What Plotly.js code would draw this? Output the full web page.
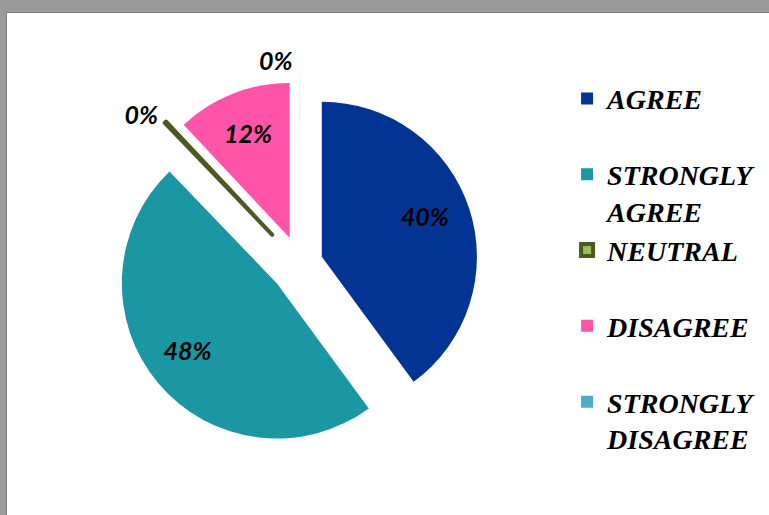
<!DOCTYPE html>
<html>
<head>
<meta charset="utf-8">
<script src="https://cdn.plot.ly/plotly-3.0.1.min.js"></script>
<style>
  html, body { margin: 0; padding: 0; background: #9a9a9a; width: 769px; height: 515px; overflow: hidden; }
  #frame { position: absolute; left: 6px; top: 12px; border-left: 1px solid #7c7c7c; border-top: 1px solid #7c7c7c; }
  #chart { width: 762px; height: 502px; background: #fff; }
</style>
</head>
<body>
<div id="frame"><div id="chart"></div></div>
<script>
// ---- data ----
const categories = ['AGREE', 'STRONGLY AGREE', 'NEUTRAL', 'DISAGREE', 'STRONGLY DISAGREE'];
// NEUTRAL and STRONGLY DISAGREE are shown as 0% in the picture (tiny slivers)
const percentValues = [40, 48, 0.2, 12, 0.01];
const sliceColors = ['#023593', '#1a97a3', '#9bbb59', '#fe55a8', '#4bacc6'];

// legend labels: wrap two-word labels, pad single-word ones so every legend row has equal height
const legendLabels = categories.map(c => c.includes(' ') ? c.replace(' ', '<br>') : c + '<br> ');

// label placement padding (invisible spaces / blank lines nudge the label inside its slice)
const NB = '&nbsp;';
const pct = '%{percent:.0%}';
const labelTemplates = [
  NB.repeat(10) + pct + '<br>' + NB,
  NB + '<br>' + pct + NB.repeat(11),
  pct,
  pct,
  pct
];

const labelFont = { family: 'Lato, "Open Sans", sans-serif', size: 25, color: '#000', weight: 'bold', style: 'italic' };

const trace = {
  type: 'pie',
  labels: legendLabels,
  values: percentValues,
  sort: false,
  direction: 'clockwise',
  rotation: 0,
  pull: [0.148, 0.194, 0.26, 0.18, 0.22],
  marker: {
    colors: sliceColors,
    line: { color: ['#023593', '#1a97a3', '#4b5a23', '#fe55a8', '#4bacc6'], width: [0, 0, 4, 0, 0] }
  },
  texttemplate: labelTemplates,
  textposition: ['inside', 'inside', 'outside', 'inside', 'outside'],
  insidetextorientation: 'horizontal',
  textfont: labelFont,
  insidetextfont: labelFont,
  outsidetextfont: labelFont,
  domain: { x: [0.128, 0.641], y: [0.1106, 0.8894] },
  hoverinfo: 'label+percent'
};

const layout = {
  width: 762,
  height: 502,
  margin: { l: 0, r: 0, t: 0, b: 0 },
  paper_bgcolor: '#ffffff',
  plot_bgcolor: '#ffffff',
  showlegend: true,
  legend: {
    x: 0.735, xanchor: 'left',
    y: 0.879, yanchor: 'top',
    valign: 'top',
    bgcolor: 'rgba(0,0,0,0)',
    font: { family: '"Liberation Serif", "Times New Roman", serif', size: 28, color: '#000', weight: 'bold', style: 'italic' },
    traceorder: 'normal'
  }
};

Plotly.newPlot('chart', [trace], layout, { displayModeBar: false, staticPlot: true });
</script>
</body>
</html>
